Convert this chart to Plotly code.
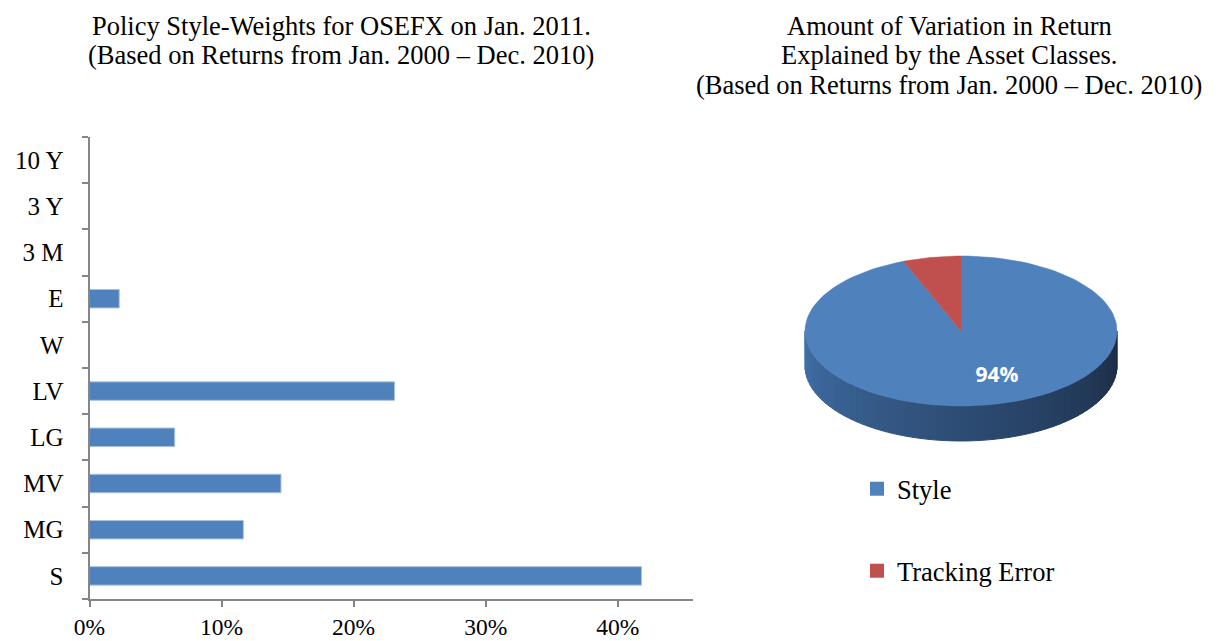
import numpy as np
import plotly.graph_objects as go

# --- data -------------------------------------------------------------------
STYLE_CLASSES = ["S", "MG", "MV", "LG", "LV", "W", "E", "3 M", "3 Y", "10 Y"]
STYLE_WEIGHTS = [0.418, 0.1165, 0.145, 0.0645, 0.231, 0.0, 0.0225, 0.0, 0.0, 0.0]

PIE_LABELS = ["Style", "Tracking Error"]
PIE_VALUES = [0.94, 0.06]

X_TICKS = [0.0, 0.1, 0.2, 0.3, 0.4]

LEFT_TITLE = ["Policy Style-Weights for OSEFX on Jan. 2011.",
              "(Based on Returns from Jan. 2000 – Dec. 2010)"]
RIGHT_TITLE = ["Amount of Variation in Return",
               "Explained by the Asset Classes.",
               "(Based on Returns from Jan. 2000 – Dec. 2010)"]

# --- look -------------------------------------------------------------------
W, H = 1218, 641
BLUE = "#4F81BD"
RED = "#C0504D"
AXIS_GREY = "#868686"
SERIF = "Liberation Serif, Times New Roman, serif"
TITLE_SIZE = 26.5
TICK_SIZE = 25

# pie geometry in page pixels (pie axes use pixel ranges)
CX, CY, RX, RY, DEPTH = 961, 331, 156, 75, 35


def fx(p):
    return p / W


def fy(p):
    return 1 - p / H


def ellipse(t_deg, dy=0.0):
    t = np.radians(t_deg)
    return CX + RX * np.sin(t), CY - RY * np.cos(t) + dy


def lerp_hex(c1, c2, f):
    a = [int(c1[i:i + 2], 16) for i in (1, 3, 5)]
    b = [int(c2[i:i + 2], 16) for i in (1, 3, 5)]
    return "#" + "".join(f"{round(u + (v - u) * f):02x}" for u, v in zip(a, b))


fig = go.Figure()

# --- left: horizontal bar chart --------------------------------------------
fig.add_trace(go.Bar(
    x=STYLE_WEIGHTS, y=STYLE_CLASSES, orientation="h",
    marker=dict(color=BLUE, line=dict(color="#a9c1e0", width=1)),
    width=0.4, showlegend=False, hoverinfo="x+y",
    xaxis="x", yaxis="y",
))

# --- right: 3D-looking pie drawn with scatter polygons ----------------------
total = sum(PIE_VALUES)
bounds = np.concatenate([[0], np.cumsum(PIE_VALUES) / total * 360])
colors = [BLUE, RED]

# side wall (front half of the ellipse), shaded left -> right
n_strips = 60
ts = np.linspace(270, 90, n_strips + 1)  # left edge -> bottom -> right edge
for i in range(n_strips):
    seg = np.linspace(ts[i], ts[i + 1], 4)
    xt, yt = ellipse(seg)
    xb, yb = ellipse(seg[::-1], DEPTH)
    f = i / (n_strips - 1)
    col = lerp_hex("#4272ab", "#1b2c45", f ** 0.9)
    fig.add_trace(go.Scatter(
        x=np.concatenate([xt, xb, xt[:1]]), y=np.concatenate([yt, yb, yt[:1]]),
        mode="lines", fill="toself", fillcolor=col,
        line=dict(color=col, width=1), hoverinfo="skip", showlegend=False,
        xaxis="x2", yaxis="y2",
    ))

# top face slices
for k, (lab, val) in enumerate(zip(PIE_LABELS, PIE_VALUES)):
    seg = np.linspace(bounds[k], bounds[k + 1], 120)
    xs, ys = ellipse(seg)
    fig.add_trace(go.Scatter(
        x=np.concatenate([[CX], xs, [CX]]), y=np.concatenate([[CY], ys, [CY]]),
        mode="lines", fill="toself", fillcolor=colors[k],
        line=dict(color=colors[k], width=0.5), name=lab,
        hoverinfo="text", text=f"{lab}: {val:.0%}", showlegend=False,
        xaxis="x2", yaxis="y2",
    ))

# percentage label for the style slice
mid = np.radians((bounds[0] + bounds[1]) / 2)
lx = CX + 0.68 * RX * np.sin(mid) + 16
ly = CY - 0.68 * RY * np.cos(mid) - 4
fig.add_trace(go.Scatter(
    x=[lx], y=[ly], mode="text", text=[f"{PIE_VALUES[0]:.0%}"],
    textfont=dict(family="Open Sans, sans-serif", size=21, color="white", weight="bold"),
    hoverinfo="skip", showlegend=False, xaxis="x2", yaxis="y2",
))

# legend entries (one legend per item to get the wide spacing)
for k, (lab, leg) in enumerate(zip(PIE_LABELS, ["legend", "legend2"])):
    fig.add_trace(go.Scatter(
        x=[None], y=[None], mode="markers", name=lab,
        marker=dict(symbol="square", size=14, color=colors[k]),
        legend=leg, xaxis="x2", yaxis="y2",
    ))

legend_style = dict(
    font=dict(family=SERIF, size=TITLE_SIZE, color="black"),
    bgcolor="rgba(0,0,0,0)", itemwidth=30,
    xanchor="left", yanchor="middle", itemclick=False,
)

# titles: one annotation per line, placed by baseline
annotations = []
for title, cx in [(LEFT_TITLE, 341), (RIGHT_TITLE, 949)]:
    for j, line in enumerate(title):
        baseline = 35 + 29.5 * j
        annotations.append(dict(
            text=line, x=fx(cx), y=fy(baseline - 9), xref="paper", yref="paper",
            xanchor="center", yanchor="middle", showarrow=False,
            font=dict(family=SERIF, size=TITLE_SIZE, color="black"),
        ))

fig.update_layout(
    width=W, height=H,
    margin=dict(l=0, r=0, t=0, b=0, autoexpand=False),
    paper_bgcolor="white", plot_bgcolor="white",
    font=dict(family=SERIF, size=TICK_SIZE, color="black"),
    xaxis=dict(
        domain=[fx(89.5), fx(693)], range=[0, 0.457],
        tickvals=X_TICKS, tickformat=".0%",
        tickfont=dict(size=23.5),
        showgrid=False, zeroline=False,
        showline=True, linecolor=AXIS_GREY, linewidth=2,
        ticks="outside", ticklen=6, tickcolor=AXIS_GREY, tickwidth=2,
        ticklabelstandoff=0, anchor="y", automargin=False,
    ),
    yaxis=dict(
        domain=[fy(599), fy(137)],
        type="category", categoryorder="array", categoryarray=STYLE_CLASSES,
        showgrid=False, zeroline=False,
        showline=True, linecolor=AXIS_GREY, linewidth=2,
        ticks="outside", ticklen=6, tickcolor=AXIS_GREY, tickwidth=2,
        tickson="boundaries", ticklabelstandoff=19, anchor="x", automargin=False,
    ),
    xaxis2=dict(domain=[fx(780), fx(1140)], range=[780, 1140], visible=False,
                anchor="y2", fixedrange=True),
    yaxis2=dict(domain=[fy(460), fy(240)], range=[460, 240], visible=False,
                anchor="x2", fixedrange=True),
    legend=dict(x=fx(857), y=fy(489), **legend_style),
    legend2=dict(x=fx(857), y=fy(571), **legend_style),
    annotations=annotations,
)

# drop the default body margin so the 1218x641 figure fills the window exactly
fig.write_html("out.html", config={"displayModeBar": False},
               post_script="document.body.style.margin = '0px';")
